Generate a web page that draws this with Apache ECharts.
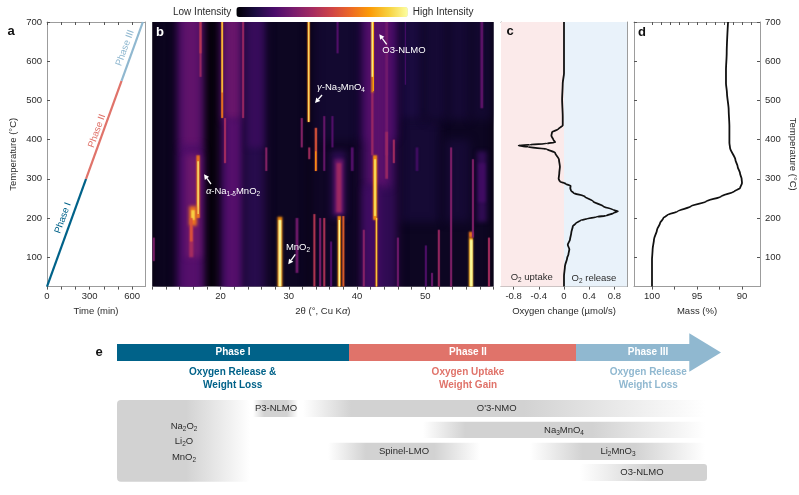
<!DOCTYPE html>
<html><head><meta charset="utf-8">
<style>html,body{margin:0;padding:0;background:#fff}#c{width:799px;height:495px}</style>
<script src="https://cdn.jsdelivr.net/npm/echarts@6/dist/echarts.min.js"></script>
</head><body><div id="c"></div>
<script>
// ---------- panel a: temperature programme ----------
const phaseITime=[0,275], phaseITemp=[25,300];
const phaseIITime=[275,525], phaseIITemp=[300,550];
const phaseIIITime=[525,675], phaseIIITemp=[550,700];
// ---------- panel c: oxygen change ----------
const oxygenTemp=[25,52,77,98,107,120,132,145,162,179,187,194,198,203,206,213,217,221,230,242,255,264,270,276,282,287,293,300,314,331,349,366,376,381,385,387,390,393,400,410,419,427,436,459,502,544,569,620,700];
const oxygenRate=[0,0,.015,.05,.07,.085,.06,.095,.115,.14,.19,.265,.36,.52,.67,.79,.857,.78,.62,.465,.33,.15,.11,.10,.105,.03,-.065,-.085,-.075,-.065,-.08,-.14,-.275,-.57,-.72,-.54,-.275,-.14,-.17,-.2,-.19,-.09,-.02,-.02,-.03,-.02,0,0,0];
// ---------- panel d: mass ----------
const massTemp=[25,94,120,145,170,187,200,208,217,230,242,255,268,276,289,300,314,331,349,379,392,434,476,519,544,578,620,700];
const massPct=[100,100,99.93,99.78,99.44,99.1,98.74,98.26,97.15,95.67,94,92.33,90.85,90.22,90,90.04,90.22,90.48,90.74,91.33,91.4,91.4,91.48,91.67,91.78,91.78,91.7,91.55];
// ---------- panel b: heat map, rows are [2theta from, 2theta to, T from, T to, intensity] ----------
const washRows=[[10,13.6,25,700,.05],[26.6,33,25,700,.055],[33,40.5,25,700,.06],[46,60,25,700,.055],
 [46.5,52,190,450,.09],[53,56.5,190,400,.09],[46.3,49.5,450,700,.11],[49.8,53.2,450,700,.09],[53.5,56.5,450,700,.09],[56.8,59.6,450,700,.08],[34,40.4,400,700,.08]];
const humpRows=[[13.6,17.4,25,700,.2],[14.3,17.1,380,700,.28],[14.3,17.2,25,380,.25],[15,17,100,360,.31],
 [20,23.4,25,700,.2],[20.5,23.2,450,700,.3],[20.8,23,25,450,.25],
 [23.3,26.7,25,700,.14],[24,26.2,380,700,.18],
 [40.4,46,25,700,.16],[41.2,45.5,400,700,.21],[41.5,44.8,280,700,.26],[41,43.5,25,280,.2],
 [36.2,38.3,200,370,.15],[36.7,38,210,350,.3],[37,37.7,215,340,.43],
 [57.6,59,190,370,.16],[57.8,58.8,240,340,.2]];
const upperLineRows=[[16.9,17.2,560,700,.42],[16.9,17.2,620,700,.5],
 [20.08,20.38,455,700,.7],[20.15,20.31,520,700,.9],[20.5,20.8,340,455,.45],[23.15,23.45,455,700,.42],
 [32.72,33.1,445,700,.72],[32.84,33,445,700,.95],[31.75,32.05,380,455,.38],
 [33.8,34.15,320,430,.6],[33.85,34.05,320,370,.75],[35.05,35.35,320,460,.3],[36.25,36.55,380,460,.25],[37,37.3,620,700,.25],
 [41.98,42.5,520,700,.78],[42.14,42.36,560,700,.97],[42.08,42.42,360,520,.42],
 [44.15,44.55,360,700,.32],[44.15,44.55,300,420,.42],[45.25,45.55,340,400,.45],
 [48.6,49,320,380,.2],[39.1,39.5,320,380,.25],[47,47.2,540,700,.2],[58.1,58.5,480,700,.28],
 [26.55,26.85,320,380,.38],[32.85,33.15,350,380,.45]];
const lowerLineRows=[[16.45,16.95,200,360,.7],[16.6,16.8,210,345,.95],[15.4,16.5,180,230,.7],[15.7,16.2,195,220,.9],
 [15.4,16,100,180,.45],[15.5,15.9,140,200,.6],[10.05,10.35,90,150,.35],
 [28.35,29.05,25,203,.75],[28.5,28.9,25,195,1],[31,31.4,60,200,.32],[33.6,33.9,25,210,.5],
 [34.45,34.75,25,200,.35],[35.05,35.35,25,200,.48],[36.05,36.35,25,140,.25],
 [37.15,37.65,25,205,.75],[37.3,37.5,25,195,1],[37.85,38.15,25,205,.65],
 [40.85,41.15,25,170,.38],[42.35,42.95,195,360,.75],[42.5,42.8,205,350,.92],[42.7,43,25,200,.75],[42.8,42.92,25,200,.9],
 [45.85,46.15,25,150,.32],[49.95,50.25,25,130,.24],[50.85,51.15,25,60,.3],[51.85,52.15,25,170,.42],[53.65,53.95,25,380,.36],
 [56.4,57,25,150,.8],[56.55,56.95,25,145,1],[56.4,57,150,165,.7],[56.85,57.15,150,350,.36],[59.2,59.5,25,150,.45]];
const heatRows=washRows.concat(humpRows,upperLineRows,lowerLineRows);
// ---------- tick labels ----------
const tempTicks=[100,200,300,400,500,600,700];
const timeTicks=[0,100,200,300,400,500,600], timeLabels=[0,300,600];
const thetaLabels=[20,30,40,50], thetaTicks=[10,12,14,16,18,20,22,24,26,28,30,32,34,36,38,40,42,44,46,48,50,52,54,56,58,60];
const oxyLabels=[-.8,-.4,0,.4,.8];
const massLabels=[100,95,90], massBottomTicks=[100,97.5,95,92.5,90], massTopTicks=[100,99,98,97,96,95,94,93,92,91,90,89];

const FONT='"Liberation Sans",Arial,sans-serif', TXT='#2b2b2b', FRAME='#9c9c9c';
const BLUE='#006289', RED='#e0736a', LIGHT='#90b8d0';
const inferno=['#000004','#1b0c41','#4a0c6b','#781c6d','#a52c60','#cf4446','#ed6925','#fb9b06','#f7d13d','#fcffa4'];
const chart=echarts.init(document.getElementById('c'),null,{renderer:'canvas'});

const xBase=(o)=>Object.assign({type:'value',axisLine:{show:true,onZero:false,lineStyle:{color:FRAME,width:1}},
  splitLine:{show:false},axisTick:{show:true,inside:false,length:3,lineStyle:{color:'#555'}},
  axisLabel:{show:true,color:TXT,fontSize:9.5,fontFamily:FONT,margin:5},
  nameLocation:'middle',nameGap:20,nameTextStyle:{color:TXT,fontSize:9.5,fontFamily:FONT}},o);
const tick=(vals,inside)=>({show:true,inside:!!inside,length:3,customValues:vals,lineStyle:{color:'#555'}});
const noLabel={show:false};

const grids=[
 {left:47,top:22,width:98,height:264.6},
 {left:152.4,top:22,width:341,height:264.6,show:true,backgroundColor:'#07030c',borderWidth:0},
 {left:501,top:22,width:126,height:264.6},
 {left:634,top:22,width:126,height:264.6}];
const TMIN=25,TMAX=700;
const xAxes=[
 xBase({gridIndex:0,min:0,max:690,position:'bottom',name:'Time (min)',axisTick:tick(timeTicks),axisLabel:{color:TXT,fontSize:9.5,fontFamily:FONT,margin:5,customValues:timeLabels}}),
 xBase({gridIndex:0,min:0,max:690,position:'top',axisTick:tick(timeTicks,true),axisLabel:noLabel}),
 xBase({gridIndex:1,min:10,max:60,position:'bottom',name:'2θ (°, Cu K{i|α})',
   nameTextStyle:{color:TXT,fontSize:9.5,fontFamily:FONT,rich:{i:{fontStyle:'italic',fontSize:9.5,fontFamily:FONT,color:TXT}}},
   axisLine:{show:false,onZero:false},axisTick:tick(thetaTicks),axisLabel:{color:TXT,fontSize:9.5,fontFamily:FONT,margin:5,customValues:thetaLabels}}),
 xBase({gridIndex:2,min:-1,max:1,position:'bottom',name:'Oxygen change (µmol/s)',axisTick:tick(oxyLabels),
   axisLabel:{color:TXT,fontSize:9.5,fontFamily:FONT,margin:5,customValues:oxyLabels,formatter:v=>v===0?'0':String(v)}}),
 xBase({gridIndex:2,min:-1,max:1,position:'top',axisTick:{show:false},axisLabel:noLabel}),
 xBase({gridIndex:3,min:88,max:102,inverse:true,position:'bottom',name:'Mass (%)',axisTick:tick(massBottomTicks),
   axisLabel:{color:TXT,fontSize:9.5,fontFamily:FONT,margin:5,customValues:massLabels}}),
 xBase({gridIndex:3,min:88,max:102,inverse:true,position:'top',axisTick:tick(massTopTicks,true),axisLabel:noLabel})
];
const yBase=(o)=>Object.assign({type:'value',min:TMIN,max:TMAX,splitLine:{show:false},
  axisLine:{show:true,onZero:false,lineStyle:{color:FRAME,width:1}},
  axisLabel:noLabel,axisTick:tick(tempTicks,true),
  nameLocation:'middle',nameTextStyle:{color:TXT,fontSize:9.5,fontFamily:FONT}},o);
const tempLabel={show:true,color:TXT,fontSize:9.5,fontFamily:FONT,margin:5,customValues:tempTicks};
const yAxes=[
 yBase({gridIndex:0,position:'left',name:'Temperature (°C)',nameGap:29,axisLabel:tempLabel}),
 yBase({gridIndex:0,position:'right',axisTick:{show:false}}),
 yBase({gridIndex:1,position:'left',axisLine:{show:false},axisTick:{show:false}}),
 yBase({gridIndex:2,position:'left'}),
 yBase({gridIndex:2,position:'right'}),
 yBase({gridIndex:3,position:'left'}),
 yBase({gridIndex:3,position:'right',axisTick:tick(tempTicks,true),axisLabel:tempLabel,name:'Temperature (°C)',nameRotate:-90,nameGap:28})
];
const pair=(a,b)=>a.map((v,i)=>[v,b[i]]);
// Each row is drawn off to the side; only its blurred shadow lands in the plot, which gives the soft edges of the measured map.
const OFF=3000;
const renderCell=(params,api)=>{
  const p0=api.coord([api.value(0),api.value(2)]), p1=api.coord([api.value(1),api.value(3)]);
  const col=api.visual('color'), w=p1[0]-p0[0];
  const top=api.value(3)>=TMAX?p1[1]-30:p1[1], bot=api.value(2)<=TMIN?p0[1]+30:p0[1];
  return {type:'rect',shape:{x:p0[0]-OFF,y:top,width:w,height:bot-top},
    style:{fill:col,shadowColor:col,shadowBlur:Math.min(w*.45,8),shadowOffsetX:OFF}};
};
const lineSeries=(x,y,color,xi,yi,name,extra)=>Object.assign({type:'line',name,xAxisIndex:xi,yAxisIndex:yi,data:pair(x,y),
  showSymbol:false,lineStyle:{color,width:2.2},itemStyle:{color},animation:false,silent:true,z:5},extra||{});

// ---------- annotation helpers (text and arrows) ----------
const txt=(text,x,y,o,el)=>Object.assign({type:'text',x,y,silent:true,z:50,style:Object.assign({text,fontFamily:FONT,fontSize:9.5,fill:TXT,align:'center',verticalAlign:'middle'},o||{})},el||{});
const sub=(fs,fill)=>({s:{fontSize:fs*.68,fontFamily:FONT,fill,color:fill,verticalAlign:'bottom',lineHeight:fs+2,padding:[4,0,0,0]},i:{fontStyle:'italic',fontSize:fs,fontFamily:FONT,color:fill},n:{fontSize:fs,fontFamily:FONT,color:fill,lineHeight:fs+2}});
const rich=(text,x,y,fs,fill)=>txt(text,x,y,{rich:sub(fs,fill),fill,fontSize:fs});
const arrow=(x1,y1,x2,y2)=>{const a=Math.atan2(y2-y1,x2-x1),h=5,w=2.6,bx=x2-h*Math.cos(a),by=y2-h*Math.sin(a);
  return [{type:'line',silent:true,z:50,shape:{x1,y1,x2:bx,y2:by},style:{stroke:'#fff',lineWidth:1.3}},
   {type:'polygon',silent:true,z:50,shape:{points:[[x2,y2],[bx-w*Math.sin(a),by+w*Math.cos(a)],[bx+w*Math.sin(a),by-w*Math.cos(a)]]},style:{fill:'#fff'}}];};
const GREY='#d2d2d2';
const fade=(stops)=>({type:'linear',x:0,y:0,x2:1,y2:0,colorStops:stops.map(s=>({offset:s[0],color:s[1]?GREY:'rgba(210,210,210,0)'}))});
const band=(x0,x1,y0,y1,stops,r)=>({type:'rect',silent:true,z:10,shape:{x:x0,y:y0,width:x1-x0,height:y1-y0,r:r||0},style:{fill:fade(stops)}});
const wbold=(text,x,y,fill)=>txt(text,x,y,{fontWeight:'bold',fill,fontSize:10});
const ROT=70*Math.PI/180;

const graphics=[
 txt('a',11,31,{fontWeight:'bold',fontSize:13,fill:'#111',align:'center'}),
 txt('b',160,32,{fontWeight:'bold',fontSize:13,fill:'#fff'}),
 txt('c',510,31,{fontWeight:'bold',fontSize:13,fill:'#111'}),
 txt('d',642,32,{fontWeight:'bold',fontSize:13,fill:'#111'}),
 txt('e',99,352,{fontWeight:'bold',fontSize:13,fill:'#111'}),
 txt('Phase I',63,218,{fill:BLUE},{rotation:ROT}),
 txt('Phase II',97,131,{fill:RED},{rotation:ROT}),
 txt('Phase III',125,48,{fill:LIGHT},{rotation:ROT}),
 rich('{n|O3-NLMO}',404,50,9.5,'#fff'),
 rich('{i|γ}{n|-Na}{s|3}{n|MnO}{s|4}',341,87,9.5,'#fff'),
 rich('{i|α}{n|-Na}{s|1-δ}{n|MnO}{s|2}',233,191,9.5,'#fff'),
 rich('{n|MnO}{s|2}',298,247,9.5,'#fff'),
 ...arrow(386.7,44.3,379.3,34.3),...arrow(322,95,315,103),...arrow(211,184,204,174.3),...arrow(295.3,254.3,288.3,264.3),
 rich('{n|O}{s|2}{n| uptake}',531.7,277,9.5,TXT),
 rich('{n|O}{s|2}{n| release}',594,278,9.5,TXT),
 {type:'rect',silent:true,z:10,shape:{x:117,y:344,width:232,height:17},style:{fill:BLUE}},
 {type:'rect',silent:true,z:10,shape:{x:349,y:344,width:227,height:17},style:{fill:RED}},
 {type:'polygon',silent:true,z:10,shape:{points:[[576,344],[689.3,344],[689.3,333.3],[721,352.5],[689.3,371.7],[689.3,361],[576,361]]},style:{fill:LIGHT}},
 wbold('Phase I',233,352.5,'#fff'),wbold('Phase II',468,352.5,'#fff'),wbold('Phase III',648,352.5,'#fff'),
 wbold('Oxygen Release &',232.7,372,BLUE),wbold('Weight Loss',232.7,385,BLUE),
 wbold('Oxygen Uptake',468,372,RED),wbold('Weight Gain',468,385,RED),
 wbold('Oxygen Release',648.3,372,LIGHT),wbold('Weight Loss',648.3,385,LIGHT),
 band(117,250,400,481.7,[[0,1],[.52,1],[1,0]],4),
 band(253,298,400,417,[[0,0],[.25,1],[.75,1],[1,0]]),
 band(303,705,400,417,[[0,0],[.12,1],[.55,1],[1,0]]),
 band(423,705,421.7,438,[[0,0],[.15,1],[.6,1],[1,0]]),
 band(328,480,442.7,460,[[0,0],[.25,1],[.7,1],[1,0]]),
 band(530,705,442.7,460,[[0,0],[.3,1],[.6,1],[1,0]]),
 band(580,707,464,481,[[0,0],[.55,1],[1,1]],3),
 txt('P3-NLMO',276,408.5),txt("O'3-NMO",496.7,408.5),
 rich('{n|Na}{s|3}{n|MnO}{s|4}',564,430,9.5,TXT),txt('Spinel-LMO',404,451),
 rich('{n|Li}{s|2}{n|MnO}{s|3}',618,451,9.5,TXT),txt('O3-NLMO',642,472.5),
 rich('{n|Na}{s|2}{n|O}{s|2}',184,426,9.5,TXT),rich('{n|Li}{s|2}{n|O}',184,441,9.5,TXT),rich('{n|MnO}{s|2}',184,457,9.5,TXT)
];

chart.setOption({
 animation:false,backgroundColor:'#fff',
 textStyle:{fontFamily:FONT},
 grid:grids,xAxis:xAxes,yAxis:yAxes,
 visualMap:[{type:'continuous',seriesIndex:0,dimension:4,min:0,max:1,calculable:false,hoverLink:false,realtime:false,
  orient:'horizontal',left:158,top:-8,itemWidth:10,itemHeight:171.5,text:['High Intensity','Low Intensity'],textGap:5,
  textStyle:{color:TXT,fontSize:10,fontFamily:FONT},inRange:{color:inferno}}],
 series:[
  {type:'custom',name:'Intensity',xAxisIndex:2,yAxisIndex:2,coordinateSystem:'cartesian2d',data:heatRows,
   dimensions:['t0','t1','T0','T1','v'],encode:{x:[0,1],y:[2,3]},renderItem:renderCell,clip:true,silent:true,progressive:0,animation:false,z:2},
  lineSeries(phaseITime,phaseITemp,BLUE,0,0,'Phase I'),
  lineSeries(phaseIITime,phaseIITemp,RED,0,0,'Phase II'),
  lineSeries(phaseIIITime,phaseIIITemp,LIGHT,0,0,'Phase III'),
  lineSeries(oxygenRate,oxygenTemp,'#111',3,3,'Oxygen change',{smooth:.25,smoothMonotone:'y',lineStyle:{color:'#111',width:1.8},
    markArea:{silent:true,z:1,data:[[{xAxis:-1,itemStyle:{color:'#fbeaea'}},{xAxis:0}],[{xAxis:0,itemStyle:{color:'#e9f2fa'}},{xAxis:1}]]}}),
  lineSeries(massPct,massTemp,'#111',5,5,'Mass',{smooth:.25,smoothMonotone:'y',lineStyle:{color:'#111',width:1.8}})
 ],
 graphic:{elements:graphics}
});
</script></body></html>
